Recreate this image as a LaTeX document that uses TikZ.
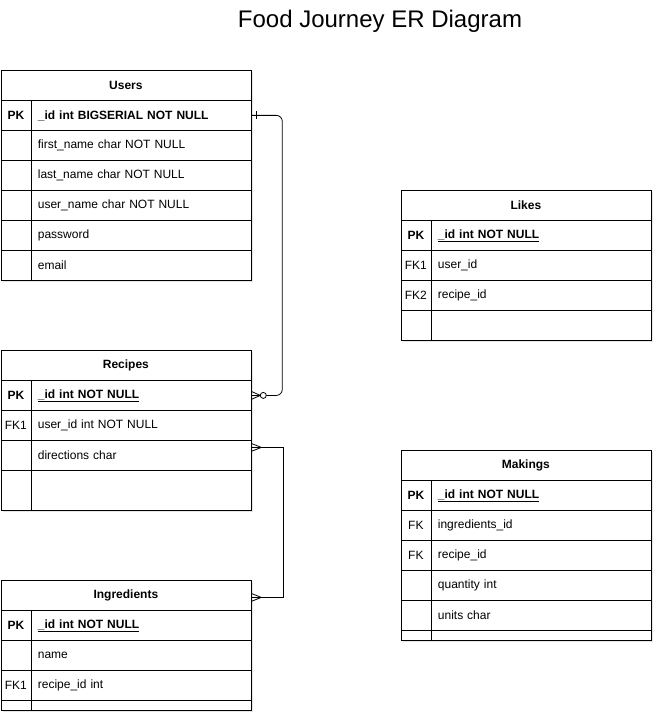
\documentclass[tikz,border=0pt]{standalone}
\usepackage{fontspec}
\setmainfont{Liberation Sans}
\usetikzlibrary{shadows}
\newcommand{\pkey}[1]{\underline{#1}}

\begin{document}
\begin{tikzpicture}[x=1pt, y=-1pt, line width=.8pt,
    cellbase/.style={draw, fill=white, anchor=north west, inner sep=0pt,
      font=\fontsize{12}{14}\selectfont,
      drop shadow={shadow xshift=2pt, shadow yshift=-2pt, opacity=.2}},
    tablehead/.style={cellbase, minimum width=250pt, minimum height=30pt,
      font=\fontsize{12}{14}\selectfont\bfseries},
    keycell/.style={cellbase, minimum width=30pt, minimum height=30pt},
    fieldcell/.style={cellbase, text width=206pt, inner xsep=7pt,
      minimum height=30pt, align=left}]
  \useasboundingbox (0,0) rectangle (662,722);
  \node[font=\fontsize{24}{28}\selectfont] (title) at (380,21) {Food Journey ER Diagram};

  % Users
  \node[tablehead] (users) at (.5,70) {Users};
  \node[keycell, font=\fontsize{12}{14}\selectfont\bfseries] (upk) at (.5,100) {PK};
  \node[fieldcell, font=\fontsize{12}{14}\selectfont\bfseries] (uid) at (30.5,100) {\_id int BIGSERIAL NOT NULL};
  \node[keycell] (uk2) at (.5,130) {};
  \node[fieldcell] (ufirst) at (30.5,130) {first\_name char NOT NULL};
  \node[keycell] (uk3) at (.5,160) {};
  \node[fieldcell] (ulast) at (30.5,160) {last\_name char NOT NULL};
  \node[keycell] (uk4) at (.5,190) {};
  \node[fieldcell] (uname) at (30.5,190) {user\_name char NOT NULL};
  \node[keycell] (uk5) at (.5,220) {};
  \node[fieldcell] (upass) at (30.5,220) {password};
  \node[keycell] (uk6) at (.5,250) {};
  \node[fieldcell] (umail) at (30.5,250) {email};

  % Recipes
  \node[tablehead] (recipes) at (.5,350) {Recipes};
  \node[keycell, font=\fontsize{12}{14}\selectfont\bfseries] (rpk) at (.5,380) {PK};
  \node[fieldcell, font=\fontsize{12}{14}\selectfont\bfseries] (rid) at (30.5,380) {\pkey{\_id int NOT NULL}};
  \node[keycell] (rfk) at (.5,410) {FK1};
  \node[fieldcell] (ruser) at (30.5,410) {user\_id int NOT NULL};
  \node[keycell] (rk3) at (.5,440) {};
  \node[fieldcell] (rdir) at (30.5,440) {directions char};
  \node[keycell, minimum height=40pt] (rk4) at (.5,470) {};
  \node[fieldcell, minimum height=40pt] (rempty) at (30.5,470) {};

  % Ingredients
  \node[tablehead] (ingr) at (.5,580) {Ingredients};
  \node[keycell, font=\fontsize{12}{14}\selectfont\bfseries] (ipk) at (.5,610) {PK};
  \node[fieldcell, font=\fontsize{12}{14}\selectfont\bfseries] (iid) at (30.5,610) {\pkey{\_id int NOT NULL}};
  \node[keycell] (ik2) at (.5,640) {};
  \node[fieldcell] (iname) at (30.5,640) {name};
  \node[keycell] (ifk) at (.5,670) {FK1};
  \node[fieldcell] (irecipe) at (30.5,670) {recipe\_id int};
  \node[keycell, minimum height=10pt] (ik4) at (.5,700) {};
  \node[fieldcell, minimum height=10pt] (iempty) at (30.5,700) {};

  % Likes
  \node[tablehead] (likes) at (400.5,190) {Likes};
  \node[keycell, font=\fontsize{12}{14}\selectfont\bfseries] (lpk) at (400.5,220) {PK};
  \node[fieldcell, font=\fontsize{12}{14}\selectfont\bfseries] (lid) at (430.5,220) {\pkey{\_id int NOT NULL}};
  \node[keycell] (lfk1) at (400.5,250) {FK1};
  \node[fieldcell] (luser) at (430.5,250) {user\_id};
  \node[keycell] (lfk2) at (400.5,280) {FK2};
  \node[fieldcell] (lrecipe) at (430.5,280) {recipe\_id};
  \node[keycell] (lk4) at (400.5,310) {};
  \node[fieldcell] (lempty) at (430.5,310) {};

  % Makings
  \node[tablehead] (makings) at (400.5,450) {Makings};
  \node[keycell, font=\fontsize{12}{14}\selectfont\bfseries] (mpk) at (400.5,480) {PK};
  \node[fieldcell, font=\fontsize{12}{14}\selectfont\bfseries] (mid) at (430.5,480) {\pkey{\_id int NOT NULL}};
  \node[keycell] (mfk1) at (400.5,510) {FK};
  \node[fieldcell] (mingr) at (430.5,510) {ingredients\_id};
  \node[keycell] (mfk2) at (400.5,540) {FK};
  \node[fieldcell] (mrecipe) at (430.5,540) {recipe\_id};
  \node[keycell] (mk4) at (400.5,570) {};
  \node[fieldcell] (mqty) at (430.5,570) {quantity int};
  \node[keycell] (mk5) at (400.5,600) {};
  \node[fieldcell] (munits) at (430.5,600) {units char};
  \node[keycell, minimum height=10pt] (mk6) at (400.5,630) {};
  \node[fieldcell, minimum height=10pt] (mempty) at (430.5,630) {};

  % users -> recipes (one to zero-or-many)
  \draw[rounded corners=6pt] (uid.east) -- ++(31,0) |- (rid.east);
  \draw ([xshift=5pt]uid.east) ++(0,-4) -- ++(0,8);
  \draw (rid.east) ++(0,-4) -- ++(9,4) -- ++(-9,4);
  \draw[fill=white] ([xshift=12pt]rid.east) circle (3);

  % recipes -> ingredients
  \draw ([yshift=8pt]rdir.east) -- ++(32,0) |- ([yshift=-2pt]ingr.east);
  \draw ([yshift=8pt]rdir.east) ++(0,-4) -- ++(10,4) -- ++(-10,4);
  \draw ([yshift=-2pt]ingr.east) ++(0,-4) -- ++(10,4) -- ++(-10,4);
\end{tikzpicture}
\end{document}
